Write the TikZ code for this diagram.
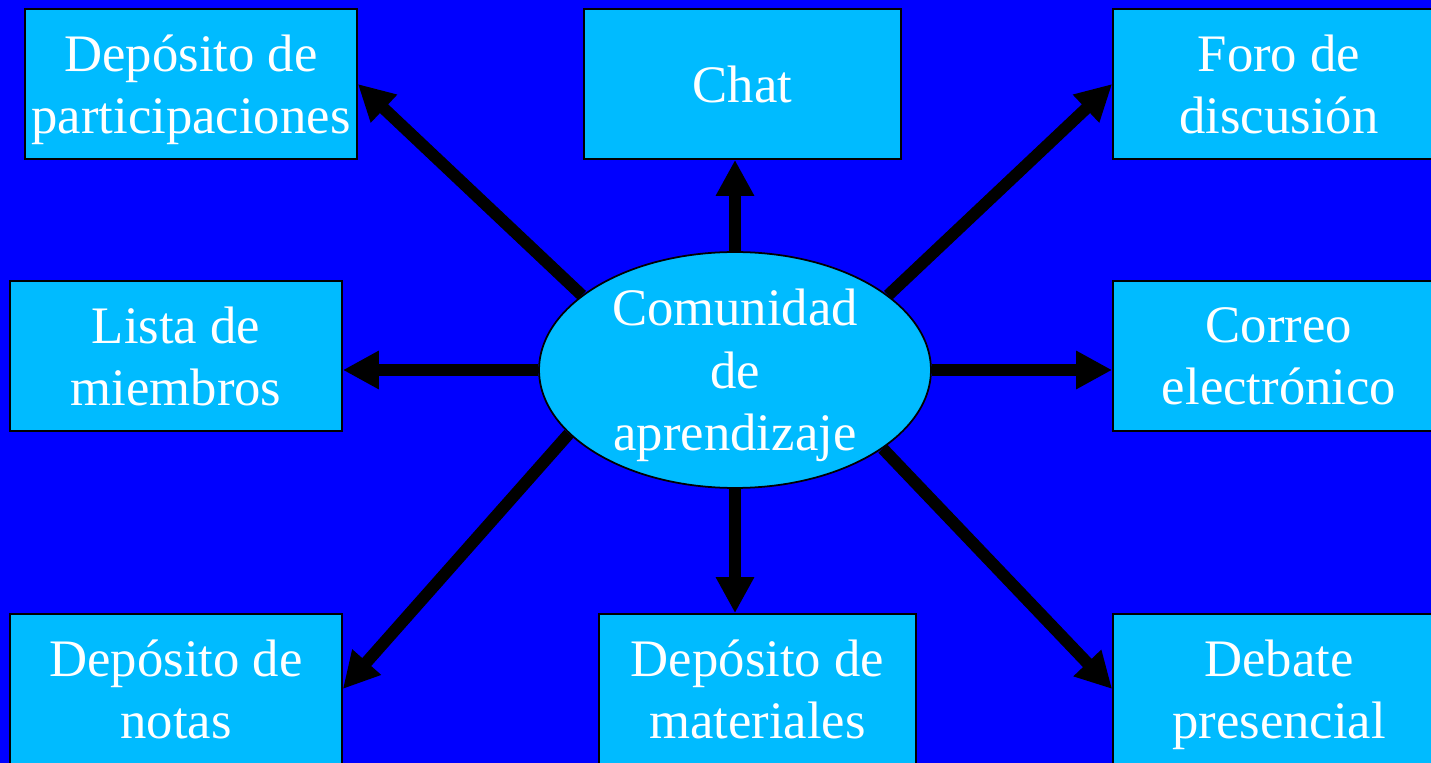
\documentclass[tikz,border=0pt]{standalone}
\usepackage{fontspec}
\setmainfont{Liberation Serif}
\usetikzlibrary{positioning, arrows.meta, shapes.geometric}
\definecolor{slideBlue}{RGB}{0,0,255}
\definecolor{boxBlue}{RGB}{0,187,255}
\tikzset{
    toolBox/.style={rectangle, draw=black, line width=1pt, fill=boxBlue, text=white, align=center, minimum width=6.64cm, minimum height=3cm, inner sep=0pt, text depth=0pt, font=\fontsize{30}{35.6}\selectfont},
    narrowBox/.style={toolBox, minimum width=6.34cm},
    hub/.style={ellipse, draw=black, line width=1pt, fill=boxBlue, text=white, align=center, minimum width=7.84cm, minimum height=4.72cm, inner sep=0pt, text depth=0pt, font=\fontsize{30}{35.6}\selectfont},
    arrow/.style={-{Triangle[length=7.2mm, width=7.2mm]}, line width=2.4mm, black}
}

\begin{document}
\begin{tikzpicture}[x=0.02cm, y=-0.02cm]
        % Background
        \useasboundingbox (0,0) rectangle (1431,763);
        \clip (0,0) rectangle (1431,763);
        \fill[slideBlue] (0,0) rectangle (1431,763);

        % Centre
        \node[hub] (Hub) at (735,370) {Comunidad\\de\\aprendizaje};

        % Top row
        \node[toolBox] (Part) at (191,84) {Depósito de\\participaciones};
        \node[narrowBox] (Chat) at (742.5,84) {Chat};
        \node[toolBox] (Foro) at (1279,84) {Foro de\\discusión};

        % Middle row
        \node[toolBox] (Lista) at (176,356) {Lista de\\miembros};
        \node[toolBox] (Correo) at (1279,356) {Correo\\electrónico};

        % Bottom row
        \node[toolBox] (Notas) at (176,689) {Depósito de\\notas};
        \node[narrowBox] (Mater) at (757.5,689) {Depósito de\\materiales};
        \node[toolBox] (Debate) at (1279,689) {Debate\\presencial};

        % Arrows
        \draw[arrow] (Hub.154) -- (Part.east);
        \draw[arrow] (Hub.north) -- (Hub.north |- Chat.south);
        \draw[arrow] (Hub.26) -- (Foro.west);
        \draw[arrow] (Hub.west) -- (Hub.west -| Lista.east);
        \draw[arrow] (Hub.east) -- (Hub.east -| Correo.west);
        \draw[arrow] (Hub.201) -- (Notas.east);
        \draw[arrow] (Hub.south) -- (Hub.south |- Mater.north);
        \draw[arrow] (Hub.332) -- (Debate.west);
    \end{tikzpicture}
\end{document}
